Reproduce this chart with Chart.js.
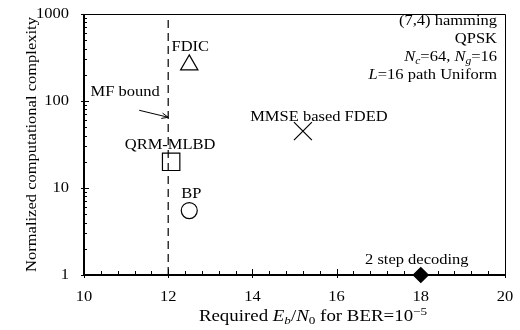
<!DOCTYPE html>
<html>
<head>
<meta charset="utf-8">
<script src="https://cdn.jsdelivr.net/npm/chart.js@4/dist/chart.umd.min.js"></script>
<style>
html,body{margin:0;padding:0;background:#fff;}
#wrap{width:520px;height:330px;}
</style>
</head>
<body>
<div id="wrap"><canvas id="c" width="520" height="330"></canvas></div>
<script>
// ---- data ----
const schemes = ['FDIC', 'QRM-MLBD', 'BP', 'MMSE based FDED', '2 step decoding'];
const requiredEbN0 = [12.5, 12.07, 12.5, 15.2, 18];
const complexity = [260, 20, 5.5, 45, 1];
const mfBoundLabel = 'MF bound';
const mfBoundEbN0 = 12;
const mfBoundComplexity = 65;
const xTickValues = [10, 12, 14, 16, 18, 20];
const yTickValues = [1, 10, 100, 1000];
const conditions = ['(7,4) hamming', 'QPSK', 'Nc=64, Ng=16', 'L=16 path Uniform'];

const FONT = '"Liberation Serif", "Times New Roman", serif';
const FS = 15;
const SX = 1.1; // horizontal stretch of the reference's text

const markerStyles = [
  {pointStyle: 'triangle', radius: 10, fill: 'rgba(0,0,0,0)'},
  {pointStyle: 'rect', radius: 12.3, fill: 'rgba(0,0,0,0)'},
  {pointStyle: 'circle', radius: 8, fill: 'rgba(0,0,0,0)'},
  {pointStyle: 'crossRot', radius: 12.7, fill: 'rgba(0,0,0,0)'},
  {pointStyle: 'rectRot', radius: 7.5, fill: '#000'}
];
// label offsets relative to marker (px)
const labelOffsets = [[1, -18], [-1, -17], [2, -17], [16, -14], [-4, -15]];

const datasets = schemes.map((name, i) => ({
  type: 'scatter',
  label: name,
  data: [{x: requiredEbN0[i], y: complexity[i]}],
  pointStyle: markerStyles[i].pointStyle,
  pointRadius: markerStyles[i].radius,
  pointHoverRadius: markerStyles[i].radius,
  borderColor: '#000',
  backgroundColor: markerStyles[i].fill,
  pointBorderWidth: 1.2,
  borderWidth: 1.2,
  clip: false
}));
datasets.unshift({
  type: 'line',
  label: mfBoundLabel,
  data: [{x: mfBoundEbN0, y: yTickValues[0]}, {x: mfBoundEbN0, y: yTickValues[yTickValues.length - 1]}],
  borderColor: '#000',
  borderWidth: 1.2,
  borderDash: [8, 5],
  pointRadius: 0,
  fill: false
});

function drawRich(ctx, segs, x, y, align, size, sx, rot) {
  size = size || FS; sx = sx || SX;
  let total = 0;
  const parts = segs.map(s => {
    const sz = (s.sub || s.sup) ? size * 0.7 : size;
    const f = (s.italic ? 'italic ' : '') + sz + 'px ' + FONT;
    ctx.font = f;
    const w = ctx.measureText(s.t).width;
    total += w;
    return {s, f, w};
  });
  ctx.save();
  ctx.translate(x, y);
  if (rot) ctx.rotate(rot);
  ctx.scale(sx, 1);
  let cx = align === 'right' ? -total : align === 'center' ? -total / 2 : 0;
  ctx.textAlign = 'left';
  ctx.textBaseline = 'middle';
  parts.forEach(p => {
    ctx.font = p.f;
    const dy = p.s.sub ? 4 : p.s.sup ? -5 : 0;
    ctx.fillText(p.s.t, cx, dy);
    cx += p.w;
  });
  ctx.restore();
}
function drawText(ctx, t, x, y, align) {
  drawRich(ctx, [{t}], x, y, align);
}

const decorPlugin = {
  id: 'decor',
  afterDraw(chart) {
    const ctx = chart.ctx;
    const a = chart.chartArea;
    const xs = chart.scales.x, ys = chart.scales.y;
    ctx.save();
    ctx.fillStyle = '#000';
    ctx.strokeStyle = '#000';
    // frame
    ctx.lineWidth = 1;
    ctx.beginPath();
    ctx.moveTo(a.left, a.top + 0.5); ctx.lineTo(a.right + 0.5, a.top + 0.5);
    ctx.lineTo(a.right + 0.5, a.bottom);
    ctx.stroke();
    ctx.lineWidth = 2;
    ctx.beginPath();
    ctx.moveTo(a.left, a.top); ctx.lineTo(a.left, a.bottom); ctx.lineTo(a.right + 1, a.bottom);
    ctx.stroke();
    // minor ticks
    ctx.lineWidth = 1;
    ctx.beginPath();
    for (let v = xs.min; v <= xs.max + 1e-9; v += 0.4) {
      const px = Math.round(xs.getPixelForValue(v)) + 0.5;
      ctx.moveTo(px, a.bottom); ctx.lineTo(px, a.bottom - 4);
    }
    xTickValues.forEach(v => {
      const px = Math.round(xs.getPixelForValue(v)) + 0.5;
      ctx.moveTo(px, a.bottom + 3); ctx.lineTo(px, a.bottom - 6);
    });
    for (let d = 1; d < 1000; d *= 10) {
      for (let m = 2; m <= 9; m++) {
        const py = Math.round(ys.getPixelForValue(d * m)) + 0.5;
        ctx.moveTo(a.left, py); ctx.lineTo(a.left + 3, py);
      }
    }
    yTickValues.forEach(v => {
      const py = Math.round(ys.getPixelForValue(v)) + 0.5;
      ctx.moveTo(a.left - 3, py); ctx.lineTo(a.left + 5, py);
    });
    ctx.stroke();

    // tick labels
    xTickValues.forEach(v => drawText(ctx, String(v), xs.getPixelForValue(v), a.bottom + 22, 'center'));
    yTickValues.forEach(v => drawText(ctx, String(v), a.left - 15, ys.getPixelForValue(v), 'right'));

    // marker labels
    schemes.forEach((name, i) => {
      const px = xs.getPixelForValue(requiredEbN0[i]);
      const py = ys.getPixelForValue(complexity[i]);
      drawText(ctx, name, px + labelOffsets[i][0], py + labelOffsets[i][1], 'center');
    });
    // MF bound label + arrow
    const tx = xs.getPixelForValue(mfBoundEbN0);
    const ty = ys.getPixelForValue(mfBoundComplexity);
    drawText(ctx, mfBoundLabel, tx - 43, ty - 25, 'center');
    const sx = tx - 29, sy = ty - 7;
    ctx.lineWidth = 1;
    ctx.beginPath(); ctx.moveTo(sx, sy); ctx.lineTo(tx, ty); ctx.stroke();
    const ang = Math.atan2(ty - sy, tx - sx);
    ctx.beginPath();
    ctx.moveTo(tx, ty);
    ctx.lineTo(tx - 7 * Math.cos(ang - 0.4), ty - 7 * Math.sin(ang - 0.4));
    ctx.moveTo(tx, ty);
    ctx.lineTo(tx - 7 * Math.cos(ang + 0.4), ty - 7 * Math.sin(ang + 0.4));
    ctx.stroke();

    // conditions (top right)
    const rx = a.right - 8;
    drawRich(ctx, [{t: conditions[0]}], rx, a.top + 7, 'right');
    drawRich(ctx, [{t: conditions[1]}], rx, a.top + 25, 'right');
    drawRich(ctx, [{t: 'N', italic: true}, {t: 'c', italic: true, sub: true}, {t: '=64, '},
                   {t: 'N', italic: true}, {t: 'g', italic: true, sub: true}, {t: '=16'}], rx, a.top + 43, 'right');
    drawRich(ctx, [{t: 'L', italic: true}, {t: '=16 path Uniform'}], rx, a.top + 61, 'right');

    // x title
    drawRich(ctx, [{t: 'Required '}, {t: 'E', italic: true}, {t: 'b', italic: true, sub: true}, {t: '/'},
                   {t: 'N', italic: true}, {t: '0', sub: true}, {t: ' for BER=10'}, {t: '\u22125', sup: true}],
             313, 317, 'center', 16, 1.18);
    // y title
    drawRich(ctx, [{t: 'Normalized computational complexity'}], 32, (a.top + a.bottom) / 2, 'center', 15, 1.1, -Math.PI / 2);
    ctx.restore();
  }
};

new Chart(document.getElementById('c'), {
  data: {datasets},
  options: {
    responsive: false,
    animation: false,
    events: [],
    layout: {padding: {top: 14, right: 15, left: 0, bottom: 0}},
    plugins: {legend: {display: false}, tooltip: {enabled: false}},
    scales: {
      x: {
        type: 'linear', min: 10, max: 20,
        afterBuildTicks: s => { s.ticks = xTickValues.map(v => ({value: v})); },
        afterFit: s => { s.height = 55; },
        grid: {display: false, drawTicks: false},
        border: {display: false},
        ticks: {display: false}
      },
      y: {
        type: 'logarithmic', min: 1, max: 1000,
        afterBuildTicks: s => { s.ticks = yTickValues.map(v => ({value: v})); },
        afterFit: s => { s.width = 84; },
        grid: {display: false, drawTicks: false},
        border: {display: false},
        ticks: {display: false}
      }
    }
  },
  plugins: [decorPlugin]
});
</script>
</body>
</html>
